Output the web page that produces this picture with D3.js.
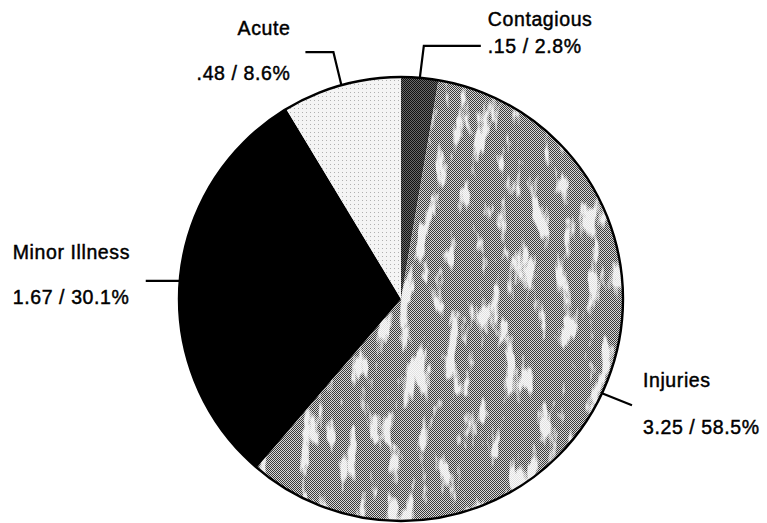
<!DOCTYPE html>
<html>
<head>
<meta charset="utf-8">
<script src="https://cdn.jsdelivr.net/npm/d3@7/dist/d3.min.js"></script>
<style>
  html, body { margin: 0; padding: 0; background: #fff; }
  svg { display: block; }
  text { font-family: "Liberation Sans", Arial, sans-serif; fill: #000; stroke: #000; stroke-width: 0.45px; }
</style>
</head>
<body>
<svg id="chart" width="767" height="523"></svg>
<script>
// ---- data ----
const categories  = ["Contagious", "Injuries", "Minor Illness", "Acute"];
const values      = [0.15, 3.25, 1.67, 0.48];
const valueLabels = [".15", "3.25", "1.67", ".48"];
const percentLabels = ["2.8%", "58.5%", "30.1%", "8.6%"];

// ---- layout / style ----
const W = 767, H = 523;
const cx = 401, cy = 299, R = 222;
const fills = ["url(#pContagious)", "url(#pInjuries)", "#000", "url(#pAcute)"];
const labelLayout = [
  { elbow: [4, -32], end: [57, 0], anchor: "start", tx: 7, ty1: -20, ty2: 7 },
  { elbow: null, end: [30, 12], anchor: "start", tx: 11, ty1: -18, ty2: 29 },
  { elbow: null, end: [-34, 0], anchor: "start", tx: -133, ty1: -22, ty2: 23 },
  { elbow: [-8, -33], end: [-28, 0], anchor: "end", tx: -15, ty1: -17, ty2: 28 }
];
const fontSize = 19.5, letterSp = 0.6;

const svg = d3.select("#chart");
const defs = svg.append("defs");

function checker(id, dark, light) {
  const p = defs.append("pattern").attr("id", id)
    .attr("width", 2).attr("height", 2).attr("patternUnits", "userSpaceOnUse");
  p.append("rect").attr("width", 2).attr("height", 2).attr("fill", light);
  p.append("rect").attr("x", 0).attr("y", 0).attr("width", 1).attr("height", 1).attr("fill", dark);
  p.append("rect").attr("x", 1).attr("y", 1).attr("width", 1).attr("height", 1).attr("fill", dark);
}
checker("pInjuries", "#3a3a3a", "#d8d8d8");
checker("pContagious", "#111", "#6a6a6a");
(function () {
  const p = defs.append("pattern").attr("id", "pAcute")
    .attr("width", 4).attr("height", 4).attr("patternUnits", "userSpaceOnUse");
  p.append("rect").attr("width", 4).attr("height", 4).attr("fill", "#f4f4f4");
  p.append("rect").attr("x", 1).attr("y", 1).attr("width", 1).attr("height", 1).attr("fill", "#b0b0b0");
})();

// blotchy (scanned) white streaks texture
const f = defs.append("filter").attr("id", "blotch")
  .attr("x", 0).attr("y", 0).attr("width", 1).attr("height", 1);
f.append("feTurbulence").attr("type", "fractalNoise")
  .attr("baseFrequency", "0.07 0.02").attr("numOctaves", 4).attr("seed", 11).attr("result", "n");
f.append("feColorMatrix").attr("in", "n").attr("type", "matrix")
  .attr("values", "0 0 0 0 1  0 0 0 0 1  0 0 0 0 1  8 0 0 0 -4.4");

const pie = d3.pie().sort(null).value(d => d)
  .startAngle(0).endAngle(2 * Math.PI);
const arcs = pie(values);
const arc = d3.arc().innerRadius(0).outerRadius(R);

const g = svg.append("g").attr("transform", `translate(${cx},${cy})`);

g.selectAll("path.slice").data(arcs).join("path")
  .attr("class", "slice")
  .attr("d", arc)
  .attr("fill", (d, i) => fills[i]);

defs.append("clipPath").attr("id", "clipInj")
  .append("path").attr("d", arc(arcs[1]));
g.append("rect").attr("x", -R).attr("y", -R).attr("width", 2 * R).attr("height", 2 * R)
  .attr("clip-path", "url(#clipInj)")
  .attr("filter", "url(#blotch)")
  .attr("opacity", 0.85);

g.append("circle").attr("r", R).attr("fill", "none")
  .attr("stroke", "#000").attr("stroke-width", 2.4);

arcs.forEach((d, i) => {
  const a = (d.startAngle + d.endAngle) / 2;
  const sx = R * Math.sin(a), sy = -R * Math.cos(a);
  const L = labelLayout[i];
  const pts = [[sx, sy]];
  let last = [sx, sy];
  if (L.elbow) { last = [sx + L.elbow[0], sy + L.elbow[1]]; pts.push(last); }
  const endPt = [last[0] + L.end[0], last[1] + L.end[1]];
  pts.push(endPt);
  g.append("path")
    .attr("d", d3.line()(pts))
    .attr("fill", "none").attr("stroke", "#000").attr("stroke-width", 2.2);
  const tx = endPt[0] + L.tx;
  g.append("text")
    .attr("x", tx).attr("y", endPt[1] + L.ty1)
    .attr("text-anchor", L.anchor)
    .attr("font-size", fontSize).attr("letter-spacing", letterSp)
    .text(categories[i]);
  g.append("text")
    .attr("x", tx).attr("y", endPt[1] + L.ty2)
    .attr("text-anchor", L.anchor)
    .attr("font-size", fontSize).attr("letter-spacing", letterSp)
    .text(`${valueLabels[i]} / ${percentLabels[i]}`);
});
</script>
</body>
</html>
